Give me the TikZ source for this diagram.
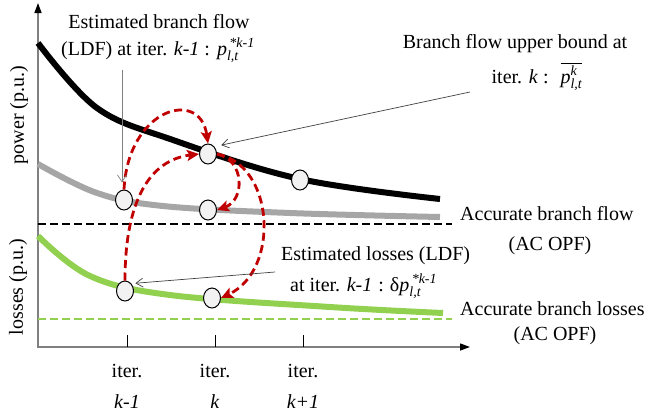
\documentclass[tikz,border=0pt]{standalone}
\usepackage{amsmath}
\usepackage{fontspec}
\setmainfont{Liberation Serif}
\usetikzlibrary{arrows.meta,shapes.geometric,calc}
\definecolor{darkred}{HTML}{C00000}
\definecolor{lgreen}{HTML}{92D050}
\definecolor{lgray}{HTML}{A6A6A6}
\definecolor{cfill}{HTML}{F2F2F2}
\definecolor{axisgray}{HTML}{808080}
\begin{document}
\begin{tikzpicture}[x=1pt,y=-1pt,
  txt/.style={font=\fontsize{20}{24}\selectfont, inner sep=0pt},
  itpoint/.style={ellipse, draw=black, line width=1pt, fill=cfill, minimum width=17pt, minimum height=20pt, inner sep=0pt},
  iterarrow/.style={draw=darkred, line width=2.8pt, dash pattern=on 8pt off 4.5pt, -{Stealth[length=12pt,width=11pt,inset=2.5pt]}},
  note/.style={draw=black!75, line width=0.7pt, -{Straight Barb[length=7pt,width=9pt]}},
  axisline/.style={draw=axisgray, line width=1.3pt, {Triangle[length=10pt,width=7pt,color=black]}-{Triangle[length=10pt,width=7pt,color=black]}},
  curve/.style={line width=6pt, line cap=butt},
  accline/.style={line width=2.5pt, dash pattern=on 8pt off 4pt}
]
\useasboundingbox (0,0) rectangle (648,418);

% axes
\coordinate (ytop) at (38,3);
\coordinate (O) at (38,347);
\coordinate (xend) at (470,347);
\draw[axisline] (ytop) -- (O) -- (xend);
\foreach \x/\n in {127/a,215/b,303/c}{
  \coordinate (tk\n) at (\x,335);
  \draw[black, line width=1pt] (tk\n) -- (\x,347);
}

% axis labels
\node[txt, rotate=90] (ylab1) at (19,115) {power (p.u.)};
\node[txt, rotate=90] (ylab2) at (18,287) {losses (p.u.)};

% curves
\draw[curve, black] plot[smooth, tension=0.6] coordinates {(38,43) (97,108) (173,140) (300,179) (440,199)};
\draw[curve, lgray] plot[smooth, tension=0.6] coordinates {(38,164) (97,193) (163,206) (290,213) (440,217)};
\draw[curve, lgreen] plot[smooth, tension=0.6] coordinates {(38,236) (90,276) (170,295) (330,307) (443,313)};

% accurate (AC OPF) lines
\draw[accline, black] (38,224) -- (452,224);
\draw[accline, lgreen, line width=2pt] (38,319) -- (452,319);

% iteration points
\node[itpoint] (A) at (124,200) {};
\node[itpoint] (B) at (208,154) {};
\node[itpoint] (C) at (208,210) {};
\node[itpoint] (D) at (300,180) {};
\node[itpoint] (E) at (125,291) {};
\node[itpoint] (F) at (212,298) {};

% red iteration arrows
\draw[iterarrow] (A.north) .. controls (128,108) and (200,88) .. (B.north);
\draw[iterarrow] (E.north) .. controls (125,200) and (150,160) .. (B.west);
\draw[iterarrow] (B.east) .. controls (245,160) and (245,200) .. (C.east);
\draw[iterarrow] (B.east) .. controls (275,165) and (280,270) .. (F.east);

% texts
\node[txt, anchor=base] (t1) at (159,28) {Estimated branch flow};
\node[txt, anchor=base] (t2) at (158,55) {(LDF) at iter. \textit{k-1} :\hspace{0.35em}$\textit{p}_{\textit{l,t}}^{\,\textit{*k-1}}$};
\node[txt, anchor=base] (t3) at (515,48) {Branch flow upper bound at};
\node[txt, anchor=base] (t4) at (537,83) {iter. \textit{k} :\hspace{0.6em}$\overline{\textit{p}_{\textit{l,t}}^{\textit{k}}}$};
\node[txt, anchor=base west] (t5) at (460,220) {Accurate branch flow};
\node[txt, anchor=base] (t6) at (550,250) {(AC OPF)};
\node[txt, anchor=base west] (t7) at (281,260) {Estimated losses (LDF)};
\node[txt, anchor=base west] (t8) at (290,291) {at iter. \textit{k-1}\hspace{0.3em}:\hspace{0.3em}δ$\textit{p}_{\textit{l,t}}^{\,\textit{*k-1}}$};
\node[txt, anchor=base west] (t9) at (460,315) {Accurate branch losses};
\node[txt, anchor=base] (t10) at (555,340) {(AC OPF)};

\foreach \x/\n/\lab in {127/a/k-1,215/b/k,303/c/k+1}{
  \node[txt, anchor=base] (it\n) at (\x,377) {iter.};
  \node[txt, anchor=base] (k\n) at (\x,408) {\textit{\lab}};
}

% annotation arrows
\coordinate (c1) at (122,70);
\coordinate (c2) at (470,92);
\coordinate (c3) at (275,272);
\draw[note, draw=axisgray] (c1) -- ([xshift=-2pt,yshift=7pt]A.north);
\draw[note, shorten >=7pt] (c2) -- (B.north east);
\draw[note, shorten >=4pt] (c3) -- (E.north east);
\end{tikzpicture}
\end{document}
